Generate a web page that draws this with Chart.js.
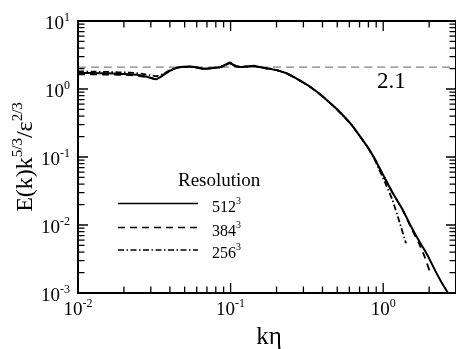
<!DOCTYPE html>
<html><head><meta charset="utf-8">
<script src="https://cdn.jsdelivr.net/npm/chart.js@4.4.0/dist/chart.umd.min.js"></script>
<style>html,body{margin:0;padding:0;background:#fff;}canvas{display:block;}</style>
</head><body>
<canvas id="c" width="456" height="349"></canvas>
<script>
// ---- data ----
const kEta512 = [0.010,0.0125,0.0155,0.0185,0.022,0.026,0.0295,0.0325,0.036,0.040,0.044,0.049,0.054,0.060,0.066,0.072,0.079,0.086,0.093,0.099,0.106,0.116,0.128,0.143,0.155,0.167,0.185,0.203,0.23,0.262,0.295,0.333,0.38,0.43,0.49,0.556,0.63,0.708,0.79,0.874,0.984,1.15,1.337,1.52,1.72,1.95,2.2,2.45,2.66,2.75];
const spec512 = [1.72,1.72,1.70,1.68,1.65,1.58,1.48,1.39,1.58,1.85,2.04,2.12,2.15,2.08,1.98,2.00,2.05,2.10,2.30,2.45,2.20,2.10,2.15,2.20,2.10,2.03,1.96,1.88,1.72,1.48,1.27,1.07,0.86,0.68,0.52,0.39,0.285,0.198,0.14,0.097,0.058,0.030,0.017,0.0096,0.0058,0.0036,0.0021,0.00135,0.00100,0.00085];

const kEta384 = [0.010,0.0125,0.0155,0.0185,0.022,0.026,0.0295,0.0325,0.036,0.040,0.044,0.049,0.054,0.060,0.066,0.072,0.079,0.086,0.093,0.099,0.106,0.116,0.128,0.143,0.155,0.167,0.185,0.203,0.23,0.262,0.295,0.333,0.38,0.43,0.49,0.556,0.63,0.708,0.79,0.874,0.984,1.15,1.337,1.52,1.72,1.88,2.03];
const spec384 = [1.64,1.64,1.63,1.62,1.60,1.54,1.46,1.40,1.60,1.87,2.03,2.10,2.12,2.07,1.99,2.00,2.04,2.09,2.25,2.36,2.24,2.12,2.13,2.15,2.09,2.04,1.96,1.88,1.72,1.48,1.27,1.07,0.86,0.68,0.52,0.39,0.285,0.198,0.14,0.097,0.058,0.030,0.0168,0.0092,0.0053,0.0033,0.0020];

const kEta256 = [0.010,0.0125,0.0155,0.0185,0.022,0.026,0.0295,0.0325,0.036,0.040,0.044,0.049,0.054,0.060,0.066,0.072,0.079,0.086,0.093,0.099,0.106,0.116,0.128,0.143,0.155,0.167,0.185,0.203,0.23,0.262,0.295,0.333,0.38,0.43,0.49,0.556,0.63,0.708,0.79,0.874,0.94,1.05,1.15,1.28,1.41];
const spec256 = [1.82,1.80,1.78,1.76,1.74,1.68,1.60,1.54,1.66,1.90,2.05,2.10,2.13,2.08,1.99,2.01,2.06,2.11,2.26,2.38,2.22,2.11,2.14,2.18,2.10,2.03,1.96,1.88,1.72,1.48,1.27,1.07,0.86,0.68,0.52,0.39,0.285,0.198,0.14,0.094,0.066,0.038,0.0233,0.011,0.0054];

const refLevel = 2.1;
const refLabel = "2.1";
const seriesBase = ["512","384","256"];
const seriesSup = ["3","3","3"];
const legendTitle = "Resolution";
const xTickValues = [0.01,0.1,1];
const xTickExp = ["-2","-1","0"];
const yTickValues = [0.001,0.01,0.1,1,10];
const yTickExp = ["-3","-2","-1","0","1"];
const xTitle = "k\u03B7";
const yTitleParts = [["E(k)k",false],["5/3",true],["/\u03B5",false],["2/3",true]];

const FONT = '"Liberation Serif","Times New Roman",serif';
const dashes = [[], [7,5], [6,2.5,1.5,2.5]];
const widths = [2, 1.8, 1.8];

function pts(xs, ys){ return xs.map((x,i)=>({x:x,y:ys[i]})); }

function supText(ctx, x, y, base, sup, bs, ss, rise, align){
  ctx.font = bs+'px '+FONT; const wb = ctx.measureText(base).width;
  ctx.font = ss+'px '+FONT; const ws = ctx.measureText(sup).width;
  const t = wb+ws;
  const x0 = align==='center' ? x-t/2 : (align==='right' ? x-t : x);
  ctx.textAlign='left'; ctx.textBaseline='alphabetic';
  ctx.font = bs+'px '+FONT; ctx.fillText(base,x0,y);
  ctx.font = ss+'px '+FONT; ctx.fillText(sup,x0+wb,y-rise);
}

const decor = {
  id:'decor',
  afterDatasetsDraw(chart){
    const ctx = chart.ctx, a = chart.chartArea;
    const xs = chart.scales.x, ys = chart.scales.y;
    ctx.save();
    ctx.fillStyle='#000'; ctx.strokeStyle='#000';
    ctx.lineWidth = 2;
    ctx.strokeRect(a.left, a.top, a.right-a.left, a.bottom-a.top);
    ctx.lineWidth = 1.3;
    ctx.beginPath();
    for (let n=-2;n<=0;n++){
      for (let m=1;m<=9;m++){
        const v = m*Math.pow(10,n);
        if (v>xs.max+1e-9) continue;
        const px = xs.getPixelForValue(v);
        const L = m===1?10:6.5;
        ctx.moveTo(px,a.bottom); ctx.lineTo(px,a.bottom-L);
        ctx.moveTo(px,a.top); ctx.lineTo(px,a.top+L);
      }
    }
    for (let n=-3;n<=1;n++){
      for (let m=1;m<=9;m++){
        const v = m*Math.pow(10,n);
        if (v>ys.max+1e-9) continue;
        const py = ys.getPixelForValue(v);
        const L = m===1?10:6.5;
        ctx.moveTo(a.left,py); ctx.lineTo(a.left+L,py);
        ctx.moveTo(a.right,py); ctx.lineTo(a.right-L,py);
      }
    }
    ctx.stroke();
    xTickValues.forEach((v,i)=>{
      const px = xs.getPixelForValue(v);
      supText(ctx, px, a.bottom+22, "10", xTickExp[i], 19, 12, 8, 'center');
    });
    yTickValues.forEach((v,i)=>{
      const py = ys.getPixelForValue(v);
      supText(ctx, a.left-8, py+8, "10", yTickExp[i], 19, 12, 8, 'right');
    });
    ctx.font = '25px '+FONT; ctx.textAlign='center'; ctx.textBaseline='alphabetic';
    ctx.fillText(xTitle, (a.left+a.right)/2+2, 344);
    ctx.save();
    ctx.translate(32, (a.top+a.bottom)/2);
    ctx.rotate(-Math.PI/2);
    let tot = 0; const ws=[];
    yTitleParts.forEach(p=>{ ctx.font=(p[1]?15:24)+'px '+FONT; const w=ctx.measureText(p[0]).width; ws.push(w); tot+=w; });
    let xx = -tot/2;
    ctx.textAlign='left';
    yTitleParts.forEach((p,i)=>{ ctx.font=(p[1]?15:24)+'px '+FONT; ctx.fillText(p[0], xx, p[1]?-10:0); xx+=ws[i]; });
    ctx.restore();
    ctx.font = '23px '+FONT; ctx.textAlign='left';
    ctx.fillText(refLabel, 377, 88);
    ctx.font = '19px '+FONT; ctx.textAlign='left';
    ctx.fillText(legendTitle, 178, 186);
    const ly = [203.5, 227.5, 250];
    for (let i=0;i<3;i++){
      ctx.save();
      ctx.lineWidth = 1.5; ctx.setLineDash(dashes[i]);
      ctx.beginPath(); ctx.moveTo(118, ly[i]); ctx.lineTo(198, ly[i]); ctx.stroke();
      ctx.restore();
      supText(ctx, 212, ly[i]+8, seriesBase[i], seriesSup[i], 16, 10, 8, 'left');
    }
    ctx.restore();
  }
};

new Chart(document.getElementById('c'), {
  type:'scatter',
  data:{ datasets:[
    {data: pts(kEta512,spec512), showLine:true, borderColor:'#000', borderWidth:widths[0], borderDash:dashes[0], pointRadius:0},
    {data: pts(kEta384,spec384), showLine:true, borderColor:'#000', borderWidth:widths[1], borderDash:dashes[1], pointRadius:0},
    {data: pts(kEta256,spec256), showLine:true, borderColor:'#000', borderWidth:widths[2], borderDash:dashes[2], pointRadius:0},
    {data: [{x:0.01,y:refLevel},{x:3,y:refLevel}], showLine:true, borderColor:'#808080', borderWidth:1.2, borderDash:[8,5], pointRadius:0}
  ]},
  options:{
    responsive:false, animation:false, devicePixelRatio:1,
    layout:{padding:{left:78, top:21, right:0, bottom:56}},
    plugins:{legend:{display:false}, tooltip:{enabled:false}},
    scales:{
      x:{type:'logarithmic', min:0.01, max:3, display:false},
      y:{type:'logarithmic', min:0.001, max:10, display:false}
    },
    elements:{line:{tension:0.15}}
  },
  plugins:[decor]
});
</script>
</body></html>
